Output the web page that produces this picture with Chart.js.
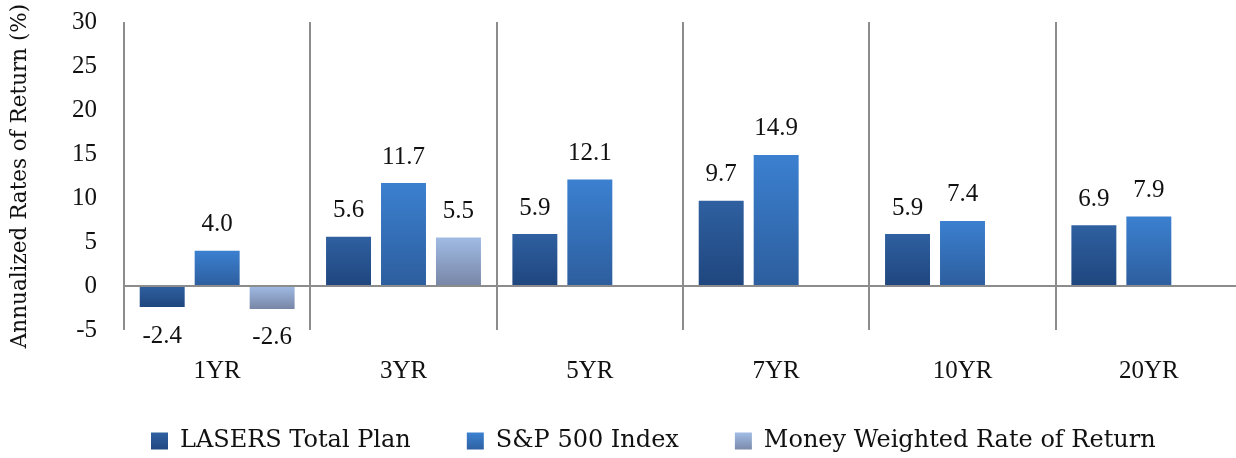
<!DOCTYPE html>
<html>
<head>
<meta charset="utf-8">
<script src="https://cdn.jsdelivr.net/npm/chart.js@4/dist/chart.umd.min.js"></script>
<style>
  html, body { margin: 0; padding: 0; background: #fff; overflow: hidden; width: 1236px; height: 458px; }
  #wrap { position: absolute; left: 0; top: 0; width: 1250px; height: 463px; }
</style>
</head>
<body>
<div id="wrap"><canvas id="c"></canvas></div>
<script>
const categories = ["1YR", "3YR", "5YR", "7YR", "10YR", "20YR"];
const lasersTotalPlan = [-2.4, 5.6, 5.9, 9.7, 5.9, 6.9];
const sp500Index = [4.0, 11.7, 12.1, 14.9, 7.4, 7.9];
const moneyWeighted = [-2.6, 5.5, null, null, null, null];
const seriesNames = ["LASERS Total Plan", "S&P 500 Index", "Money Weighted Rate of Return"];
const yTicks = [-5, 0, 5, 10, 15, 20, 25, 30];

const NUMFONT = "'Liberation Serif', 'DejaVu Serif', serif";
const WORDFONT = "'DejaVu Serif', 'Liberation Serif', serif";
const GRID = '#8c8c8c';
const TEXT = '#111';
const palettes = [
  ['#2f60a0', '#1f467e'],
  ['#3b80d0', '#2d5e9e'],
  ['#a0bbe4', '#7886a6']
];

function barGrad(top, bottom) {
  return (ctx) => {
    const c = ctx.chart;
    if (!c.chartArea || ctx.type !== 'data' || ctx.raw == null) return bottom;
    const ys = c.scales.y;
    const p0 = ys.getPixelForValue(0), p1 = ys.getPixelForValue(ctx.raw);
    const a = Math.min(p0, p1), b = Math.max(p0, p1);
    if (!isFinite(a) || !isFinite(b) || a === b) return bottom;
    const g = c.ctx.createLinearGradient(0, a, 0, b);
    g.addColorStop(0, top);
    g.addColorStop(1, bottom);
    return g;
  };
}

const valueLabels = {
  id: 'valueLabels',
  afterDatasetsDraw(chart) {
    const ctx = chart.ctx;
    ctx.save();
    ctx.font = "25px " + NUMFONT;
    ctx.fillStyle = TEXT;
    ctx.textAlign = 'center';
    ctx.textBaseline = 'middle';
    chart.data.datasets.forEach((ds, i) => {
      const meta = chart.getDatasetMeta(i);
      meta.data.forEach((el, j) => {
        const v = ds.data[j];
        if (v == null) return;
        const y = v >= 0 ? el.y - 26 : el.y + 29;
        ctx.fillText(v.toFixed(1), el.x, y);
      });
    });
    ctx.restore();
  }
};

const layoutFix = {
  id: 'layoutFix',
  afterLayout(chart) {
    const lg = chart.legend;
    if (lg) {
      lg.left = 151 - 56;
      lg.right = chart.width;
    }
    const xs = chart.scales.x;
    if (xs) xs.bottom = chart.height;
  }
};

new Chart(document.getElementById('c'), {
  type: 'bar',
  data: {
    labels: categories,
    datasets: [lasersTotalPlan, sp500Index, moneyWeighted].map((d, i) => ({
      label: seriesNames[i],
      data: d,
      backgroundColor: barGrad(palettes[i][0], palettes[i][1]),
      borderWidth: 0,
      categoryPercentage: 0.885,
      barPercentage: 0.818
    }))
  },
  options: {
    responsive: true,
    maintainAspectRatio: false,
    animation: false,
    devicePixelRatio: 1,
    layout: { padding: { left: 0, right: 8, top: 22, bottom: 0 } },
    plugins: {
      tooltip: { enabled: false },
      legend: {
        position: 'bottom',
        align: 'start',
        labels: {
          font: { family: WORDFONT, size: 24 },
          color: TEXT,
          boxWidth: 17,
          boxHeight: 17,
          padding: 56,
          generateLabels(chart) {
            const c = chart.ctx;
            return seriesNames.map((name, i) => {
              const g = c.createLinearGradient(0, 433, 0, 451);
              g.addColorStop(0, palettes[i][0]);
              g.addColorStop(1, palettes[i][1]);
              return { text: name, fillStyle: g, strokeStyle: 'rgba(0,0,0,0)', lineWidth: 0, hidden: false, datasetIndex: i, fontColor: TEXT };
            });
          }
        }
      }
    },
    scales: {
      x: {
        grid: { offset: true, color: GRID, lineWidth: 2, drawTicks: false },
        border: { display: false },
        ticks: { font: { family: NUMFONT, size: 25 }, color: TEXT, padding: 26 },
        afterFit(scale) { scale.height = 43; scale.paddingLeft = 0; scale.paddingRight = 0; }
      },
      y: {
        min: -5,
        max: 30,
        afterBuildTicks(scale) { scale.ticks = yTicks.map(v => ({ value: v })); },
        grid: {
          drawTicks: false,
          lineWidth: 2,
          color: (ctx) => (ctx.tick && ctx.tick.value === 0) ? GRID : 'rgba(0,0,0,0)'
        },
        border: { display: false },
        ticks: { font: { family: NUMFONT, size: 25 }, color: TEXT, padding: 27 },
        title: {
          display: true,
          text: 'Annualized Rates of Return (%)',
          font: { family: WORDFONT, size: 21.5 },
          color: TEXT,
          padding: { top: 8, bottom: 0 }
        },
        afterFit(scale) { scale.width = 124; scale.paddingTop = 0; scale.paddingBottom = 0; }
      }
    }
  },
  plugins: [valueLabels, layoutFix]
});
</script>
</body>
</html>
